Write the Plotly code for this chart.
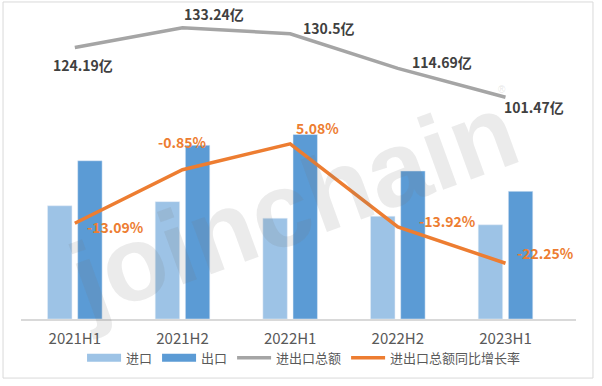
import plotly.graph_objects as go

categories = ["2021H1", "2021H2", "2022H1", "2022H2", "2023H1"]
imports = [51.8, 53.7, 46.1, 47.0, 43.1]
exports = [72.4, 79.5, 84.4, 67.7, 58.4]
totals = [124.19, 133.24, 130.5, 114.69, 101.47]
total_labels = ["124.19亿", "133.24亿", "130.5亿", "114.69亿", "101.47亿"]
growth = [-13.09, -0.85, 5.08, -13.92, -22.25]
growth_labels = ["-13.09%", "-0.85%", "5.08%", "-13.92%", "-22.25%"]

# label offsets (pixels) – styling only
total_dx = [8, 31, 39, 44, 28]
total_dy = [-17, 14, 6, 6, -10]
growth_dx = [41, 0, 27, 50, 40]
growth_dy = [-4, 28, 16, 6, 10]

C_IMP = "#9DC3E6"
C_EXP = "#5B9BD5"
C_TOT = "#A5A5A5"
C_GRO = "#ED7D31"
FONT = "Noto Sans CJK SC"

fig = go.Figure()
fig.add_trace(go.Bar(x=categories, y=imports, name="进口", marker_color=C_IMP, showlegend=False))
fig.add_trace(go.Bar(x=categories, y=exports, name="出口", marker_color=C_EXP, showlegend=False))
# legend entries drawn as wide swatches (Excel-style)
fig.add_trace(go.Scatter(x=[None], y=[None], name="进口", mode="lines",
                         line=dict(color=C_IMP, width=8)))
fig.add_trace(go.Scatter(x=[None], y=[None], name="出口", mode="lines",
                         line=dict(color=C_EXP, width=8)))
fig.add_trace(go.Scatter(x=categories, y=totals, name="进出口总额", mode="lines",
                         line=dict(color=C_TOT, width=3.5)))
fig.add_trace(go.Scatter(x=categories, y=growth, name="进出口总额同比增长率", mode="lines",
                         line=dict(color=C_GRO, width=3.5), yaxis="y2"))

ann = []
for c, v, t, dx, dy in zip(categories, totals, total_labels, total_dx, total_dy):
    ann.append(dict(x=c, y=v, xref="x", yref="y", text="<b>%s</b>" % t, showarrow=False,
                    xshift=dx, yshift=dy, font=dict(family=FONT, size=14, color="#404040")))
for c, v, t, dx, dy in zip(categories, growth, growth_labels, growth_dx, growth_dy):
    ann.append(dict(x=c, y=v, xref="x", yref="y2", text="<b>%s</b>" % t, showarrow=False,
                    xshift=dx, yshift=dy, font=dict(family=FONT, size=14, color=C_GRO)))
# watermark
ann.append(dict(x=0.49, y=0.373, xref="paper", yref="paper", text="<b>joinchain</b>",
                showarrow=False, textangle=-20,
                font=dict(family="Liberation Sans", size=106, color="rgba(120,120,120,0.15)")))
ann.append(dict(x=0.877, y=0.775, xref="paper", yref="paper", text="®",
                showarrow=False, font=dict(family="Liberation Sans", size=10,
                                           color="rgba(120,120,120,0.2)")))

fig.update_layout(
    width=602, height=386,
    margin=dict(l=21, r=26, t=13, b=67, autoexpand=False),
    paper_bgcolor="white", plot_bgcolor="white",
    barmode="group", bargap=0.44, bargroupgap=0.19,
    font=dict(family=FONT, size=14, color="#595959"),
    xaxis=dict(showline=True, linecolor="#D9D9D9", linewidth=1.5, ticks="",
               showgrid=False, tickfont=dict(size=15, color="#595959"),
               ticklabelstandoff=5, automargin=False),
    yaxis=dict(range=[0, 140], visible=False, showgrid=False, automargin=False),
    yaxis2=dict(range=[-35, 35], overlaying="y", side="right", visible=False,
                showgrid=False, automargin=False),
    legend=dict(orientation="h", x=0.51, xanchor="center", y=-0.127, yanchor="middle",
                bgcolor="rgba(0,0,0,0)",
                font=dict(size=13, color="#595959"), itemwidth=34, tracegroupgap=0),
    showlegend=True,
    annotations=ann,
    shapes=[dict(type="rect", xref="paper", yref="paper", x0=-0.0324, x1=1.0306,
                 y0=-0.193, y1=1.036, line=dict(color="#D9D9D9", width=1))],
)

fig.write_html("out.html", config={"displayModeBar": False},
               post_script="document.body.style.margin='0px';document.body.style.overflow='hidden';")
